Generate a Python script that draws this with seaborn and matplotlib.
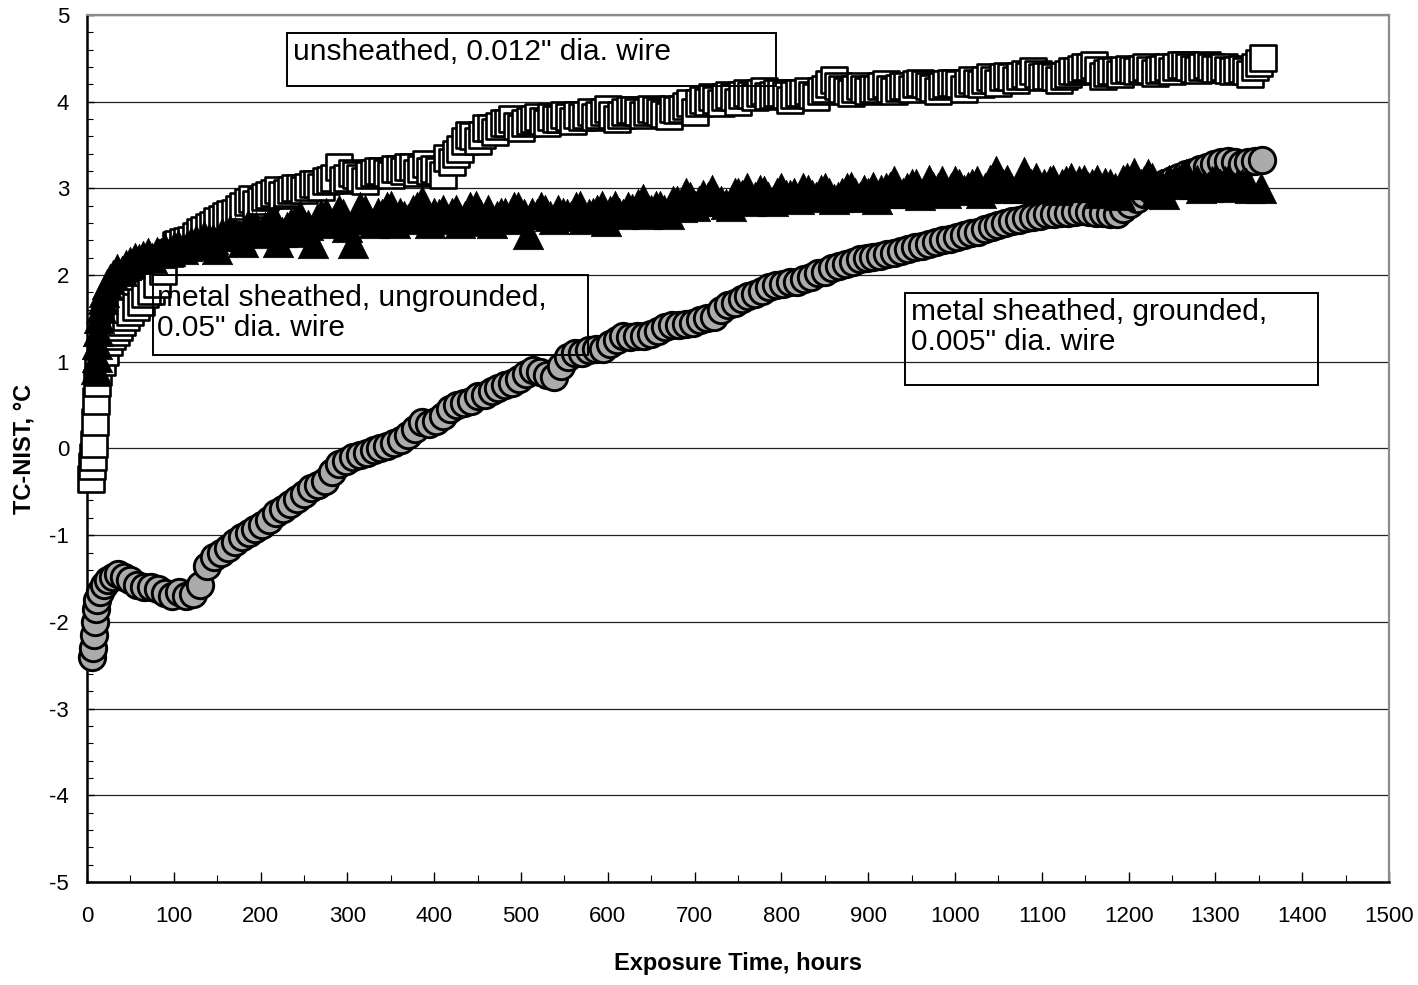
"""
plot.py - thermocouple drift vs exposure time (TC minus NIST reference).
Three wire types, scanned-report style scatter.
"""

import matplotlib
matplotlib.use("Agg")
import matplotlib.pyplot as plt
from matplotlib.patches import Rectangle
from matplotlib.ticker import MultipleLocator
import pandas as pd
import seaborn as sns


# ─────────────────────────────────────────────────────────────────────────────
# DATA
# ─────────────────────────────────────────────────────────────────────────────

# unsheathed, 0.012" wire  (open squares)
unsh_hours = [
    5, 6, 7, 8, 9, 10, 11, 13, 17, 21,
    25, 29, 33, 37, 40, 45, 50, 56, 62, 67,
    74, 81, 88, 95, 102, 110, 120, 130, 140, 150,
    160, 170, 180, 190, 200, 210, 220, 230, 240, 250,
    260, 270, 280, 290, 300, 310, 320, 330, 340, 350,
    360, 370, 380, 390, 400, 410, 420, 430, 440, 450,
    460, 470, 480, 490, 500, 510, 520, 530, 540, 550,
    560, 570, 580, 590, 600, 610, 620, 630, 640, 650,
    660, 670, 680, 690, 700, 710, 720, 730, 740, 750,
    760, 770, 780, 790, 800, 810, 820, 830, 840, 850,
    860, 870, 880, 890, 900, 910, 920, 930, 940, 950,
    960, 970, 980, 990, 1000, 1010, 1020, 1030, 1040, 1050,
    1060, 1070, 1080, 1090, 1100, 1110, 1120, 1130, 1140, 1150,
    1160, 1170, 1180, 1190, 1200, 1210, 1220, 1230, 1240, 1250,
    1260, 1270, 1280, 1290, 1300, 1310, 1320, 1330, 1340, 1350, 1355,
]
unsh_tc = [
    -0.35, -0.2, -0.1, 0.05, 0.3, 0.55, 0.75, 0.88, 1.0, 1.11,
    1.23, 1.3, 1.34, 1.4, 1.46, 1.52, 1.57, 1.63, 1.69, 1.78,
    1.82, 1.9, 2.05, 2.25, 2.35, 2.38, 2.4, 2.5, 2.55, 2.62,
    2.68, 2.72, 2.8, 2.88, 2.86, 2.92, 2.98, 2.95, 3.0, 2.98,
    3.05, 3.02, 3.1, 3.25, 3.12, 3.15, 3.08, 3.18, 3.2, 3.15,
    3.22, 3.25, 3.18, 3.28, 3.22, 3.15, 3.3, 3.45, 3.62, 3.55,
    3.7, 3.65, 3.75, 3.8, 3.7, 3.78, 3.82, 3.75, 3.8, 3.85,
    3.78, 3.82, 3.88, 3.85, 3.92, 3.8, 3.88, 3.9, 3.85, 3.92,
    3.88, 3.83, 3.9, 3.95, 3.88, 4.02, 4.05, 3.98, 4.08, 4.0,
    4.1, 4.05, 4.12, 4.08, 4.1, 4.02, 4.1, 4.12, 4.05, 4.15,
    4.25, 4.15, 4.1, 4.18, 4.12, 4.15, 4.2, 4.12, 4.18, 4.15,
    4.22, 4.18, 4.12, 4.2, 4.22, 4.15, 4.25, 4.2, 4.28, 4.22,
    4.3, 4.25, 4.32, 4.35, 4.28, 4.3, 4.25, 4.32, 4.35, 4.4,
    4.42, 4.3, 4.35, 4.32, 4.38, 4.35, 4.4, 4.33, 4.38, 4.35,
    4.42, 4.4, 4.36, 4.42, 4.38, 4.4, 4.35, 4.38, 4.32, 4.45, 4.5,
]
# readings taken between the ones above
unsh_hours_mid = [
    105, 115, 125, 135, 145, 155, 165, 175, 185, 195,
    205, 215, 225, 235, 245, 255, 265, 275, 285, 295,
    305, 315, 325, 335, 345, 355, 365, 375, 385, 395,
    405, 415, 425, 435, 445, 455, 465, 475, 485, 495,
    505, 515, 525, 535, 545, 555, 565, 575, 585, 595,
    605, 615, 625, 635, 645, 655, 665, 675, 685, 695,
    705, 715, 725, 735, 745, 755, 765, 775, 785, 795,
    805, 815, 825, 835, 845, 855, 865, 875, 885, 895,
    905, 915, 925, 935, 945, 955, 965, 975, 985, 995,
    1005, 1015, 1025, 1035, 1045, 1055, 1065, 1075, 1085, 1095,
    1105, 1115, 1125, 1135, 1145, 1155, 1165, 1175, 1185, 1195,
    1205, 1215, 1225, 1235, 1245, 1255, 1265, 1275, 1285, 1295,
    1305, 1315, 1325, 1335, 1345,
]
unsh_tc_mid = [
    2.36, 2.39, 2.45, 2.52, 2.58, 2.65, 2.7, 2.76, 2.84, 2.82,
    2.9, 2.95, 2.92, 2.98, 3.0, 3.02, 3.05, 3.08, 3.12, 3.1,
    3.18, 3.12, 3.15, 3.2, 3.18, 3.22, 3.2, 3.25, 3.22, 3.2,
    3.2, 3.35, 3.4, 3.55, 3.6, 3.62, 3.7, 3.72, 3.75, 3.72,
    3.75, 3.8, 3.78, 3.82, 3.8, 3.82, 3.85, 3.85, 3.82, 3.88,
    3.85, 3.85, 3.9, 3.88, 3.88, 3.9, 3.86, 3.92, 3.92, 3.98,
    3.98, 4.0, 4.02, 4.05, 4.05, 4.08, 4.08, 4.1, 4.06, 4.1,
    4.08, 4.08, 4.1, 4.08, 4.12, 4.2, 4.18, 4.12, 4.15, 4.15,
    4.15, 4.18, 4.15, 4.16, 4.18, 4.2, 4.2, 4.16, 4.18, 4.22,
    4.2, 4.22, 4.22, 4.25, 4.25, 4.28, 4.28, 4.3, 4.3, 4.32,
    4.3, 4.28, 4.3, 4.35, 4.38, 4.4, 4.36, 4.33, 4.35, 4.36,
    4.36, 4.38, 4.36, 4.36, 4.4, 4.4, 4.42, 4.38, 4.4, 4.4,
    4.38, 4.36, 4.36, 4.35, 4.4,
]

# metal sheathed, ungrounded, 0.05" wire  (filled triangles)
ungr_hours = [
    10, 11, 12, 13, 14, 16, 18, 20, 23, 26,
    30, 35, 40, 45, 50, 55, 60, 65, 70, 75,
    80, 85, 90, 95, 100, 110, 120, 130, 140, 150,
    160, 170, 180, 190, 200, 210, 220, 230, 240, 250,
    260, 270, 280, 290, 300, 306, 315, 325, 335, 345,
    355, 365, 375, 386, 395, 405, 415, 425, 435, 448,
    458, 467, 477, 487, 497, 508, 518, 528, 538, 548,
    558, 568, 578, 588, 598, 608, 618, 628, 641, 650,
    660, 670, 680, 690, 700, 710, 720, 730, 742, 750,
    760, 770, 780, 790, 800, 810, 820, 830, 840, 850,
    860, 870, 880, 890, 900, 910, 920, 930, 940, 950,
    960, 970, 980, 990, 1000, 1010, 1020, 1030, 1040, 1047,
    1055, 1065, 1079, 1088, 1098, 1109, 1118, 1128, 1138, 1148,
    1158, 1168, 1178, 1190, 1198, 1206, 1214, 1222, 1232, 1241,
    1250, 1258, 1266, 1275, 1283, 1291, 1300, 1311, 1320, 1330,
    1340, 1353,
]
ungr_tc = [
    0.92, 1.05, 1.2, 1.35, 1.5, 1.62, 1.72, 1.8, 1.9, 1.95,
    2.0, 2.07, 2.05, 2.12, 2.15, 2.2, 2.18, 2.22, 2.25, 2.2,
    2.27, 2.25, 2.3, 2.28, 2.32, 2.3, 2.38, 2.35, 2.42, 2.3,
    2.45, 2.5, 2.38, 2.55, 2.48, 2.6, 2.38, 2.55, 2.62, 2.5,
    2.37, 2.7, 2.6, 2.75, 2.55, 2.37, 2.78, 2.65, 2.72, 2.78,
    2.6, 2.68, 2.75, 2.86, 2.6, 2.7, 2.65, 2.75, 2.68, 2.8,
    2.62, 2.6, 2.72, 2.65, 2.78, 2.47, 2.7, 2.75, 2.65, 2.72,
    2.68, 2.8, 2.7, 2.75, 2.62, 2.8, 2.7, 2.76, 2.88, 2.75,
    2.8, 2.7, 2.85, 2.95, 2.8, 2.92, 2.98, 2.85, 2.8, 2.95,
    3.0, 2.9, 2.97, 2.85, 3.0, 2.92, 2.88, 2.98, 2.9, 3.0,
    2.88, 2.95, 3.02, 2.9, 2.95, 2.88, 3.0, 3.08, 2.95, 3.05,
    2.92, 3.1, 3.0, 2.95, 3.08, 2.98, 3.05, 2.95, 3.1, 3.2,
    3.05, 3.0, 3.19, 3.05, 3.0, 3.08, 2.98, 3.08, 3.02, 3.1,
    3.05, 2.95, 3.05, 2.92, 3.12, 3.18, 3.05, 3.16, 2.95, 2.93,
    3.05, 3.1, 3.17, 3.05, 3.0, 3.02, 3.1, 3.08, 3.02, 3.05,
    3.0, 3.0,
]
ungr_hours_mid = [
    105, 115, 125, 135, 145, 155, 165, 175, 185, 195,
    205, 215, 225, 235, 245, 255, 265, 275, 285, 295,
    310, 320, 330, 340, 350, 360, 370, 380, 390, 400,
    410, 420, 430, 441, 453, 462, 472, 482, 492, 503,
    513, 523, 533, 543, 553, 563, 573, 583, 593, 603,
    613, 623, 635, 645, 655, 665, 675, 685, 695, 705,
    715, 725, 736, 746, 755, 765, 775, 785, 795, 805,
    815, 825, 835, 845, 855, 865, 875, 885, 895, 905,
    915, 925, 935, 945, 955, 965, 975, 985, 995, 1005,
    1015, 1025, 1035, 1044, 1051, 1060, 1072, 1084, 1093, 1103,
    1113, 1123, 1133, 1143, 1153, 1163, 1173, 1184, 1194, 1202,
    1210, 1218, 1227, 1237, 1246, 1254, 1262, 1270, 1279, 1287,
    1296, 1305, 1315, 1325, 1335,
]
ungr_tc_mid = [
    2.35, 2.33, 2.4, 2.45, 2.42, 2.48, 2.52, 2.45, 2.58, 2.55,
    2.55, 2.65, 2.5, 2.6, 2.68, 2.58, 2.65, 2.72, 2.62, 2.7,
    2.65, 2.75, 2.6, 2.7, 2.8, 2.72, 2.65, 2.78, 2.7, 2.72,
    2.75, 2.72, 2.6, 2.78, 2.7, 2.75, 2.68, 2.72, 2.78, 2.7,
    2.72, 2.78, 2.68, 2.75, 2.7, 2.78, 2.65, 2.72, 2.8, 2.74,
    2.72, 2.78, 2.82, 2.7, 2.8, 2.75, 2.85, 2.78, 2.9, 2.85,
    2.9, 2.88, 2.82, 2.95, 2.92, 2.85, 2.98, 2.9, 2.95, 2.92,
    2.95, 3.0, 2.92, 2.98, 2.95, 2.9, 3.0, 2.95, 2.98, 3.02,
    2.98, 3.02, 2.95, 3.0, 3.05, 2.98, 3.02, 3.08, 3.0, 3.05,
    3.02, 3.08, 3.0, 3.12, 3.05, 3.1, 3.0, 3.08, 3.12, 3.05,
    3.1, 3.05, 3.12, 3.08, 3.02, 3.1, 3.06, 3.0, 3.1, 3.05,
    3.1, 3.08, 3.12, 3.05, 3.1, 3.08, 3.12, 3.06, 3.1, 3.04,
    3.08, 3.05, 3.1, 3.04, 3.06,
]

# metal sheathed, grounded, 0.005" wire  (grey circles)
grnd_hours = [
    6, 7, 8, 9, 10, 12, 15, 19, 24, 30,
    36, 43, 50, 58, 66, 74, 82, 90, 98, 106,
    114, 122, 130, 138, 146, 154, 162, 170, 178, 186,
    194, 202, 210, 218, 226, 234, 242, 250, 258, 266,
    274, 282, 290, 298, 306, 314, 322, 330, 338, 346,
    354, 362, 370, 378, 386, 394, 402, 410, 418, 426,
    434, 442, 450, 458, 466, 474, 482, 490, 498, 506,
    514, 522, 530, 538, 546, 554, 562, 570, 578, 586,
    594, 602, 610, 618, 626, 634, 642, 650, 658, 666,
    674, 682, 690, 698, 706, 714, 722, 730, 738, 746,
    754, 762, 770, 778, 786, 794, 802, 810, 818, 826,
    834, 842, 850, 858, 866, 874, 882, 890, 898, 906,
    914, 922, 930, 938, 946, 954, 962, 970, 978, 986,
    994, 1002, 1010, 1018, 1026, 1034, 1042, 1050, 1058, 1066,
    1074, 1082, 1090, 1098, 1106, 1114, 1122, 1130, 1138, 1146,
    1154, 1162, 1170, 1178, 1186, 1194, 1202, 1210, 1218, 1226,
    1234, 1242, 1250, 1258, 1266, 1274, 1282, 1290, 1298, 1306,
    1314, 1322, 1330, 1338, 1346, 1354,
]
grnd_tc = [
    -2.4, -2.3, -2.15, -2.0, -1.85, -1.75, -1.65, -1.58, -1.52, -1.48,
    -1.45, -1.48, -1.52, -1.58, -1.6, -1.6, -1.62, -1.67, -1.7, -1.66,
    -1.7, -1.68, -1.58, -1.35, -1.25, -1.2, -1.15, -1.08, -1.02, -0.98,
    -0.93, -0.88, -0.82, -0.75, -0.7, -0.64, -0.58, -0.52, -0.46, -0.42,
    -0.37, -0.27, -0.18, -0.15, -0.1, -0.07, -0.05, -0.02, 0.0, 0.03,
    0.06, 0.1, 0.15, 0.22, 0.3, 0.28, 0.32, 0.38, 0.45, 0.5,
    0.52, 0.55, 0.6, 0.62, 0.66, 0.7, 0.73, 0.76, 0.8, 0.86,
    0.9, 0.88, 0.85, 0.83, 0.95, 1.05, 1.1, 1.1, 1.13, 1.15,
    1.15, 1.2, 1.25, 1.3, 1.28, 1.3, 1.3, 1.32, 1.36, 1.4,
    1.42, 1.42, 1.43, 1.45, 1.48, 1.5, 1.52, 1.6, 1.65, 1.68,
    1.72, 1.76, 1.78, 1.82, 1.86, 1.88, 1.9, 1.92, 1.92, 1.95,
    1.98, 2.02, 2.04, 2.08, 2.1, 2.13, 2.15, 2.18, 2.2, 2.21,
    2.22, 2.24, 2.26, 2.28, 2.3, 2.32, 2.34, 2.36, 2.38, 2.4,
    2.42, 2.44, 2.46, 2.48, 2.5, 2.53, 2.55, 2.58, 2.6, 2.62,
    2.64, 2.66, 2.67, 2.68, 2.7, 2.71, 2.72, 2.72, 2.73, 2.74,
    2.73, 2.72, 2.72, 2.7, 2.7, 2.76, 2.82, 2.88, 2.93, 2.98,
    3.02, 3.06, 3.1, 3.13, 3.16, 3.19, 3.22, 3.25, 3.28, 3.3,
    3.32, 3.3, 3.28, 3.3, 3.32, 3.33,
]

label_unsh = 'unsheathed, 0.012" dia. wire'
label_ungr = 'metal sheathed, ungrounded,\n0.05" dia. wire'
label_grnd = 'metal sheathed, grounded,\n0.005" dia. wire'


# ─────────────────────────────────────────────────────────────────────────────
# FIGURE
# ─────────────────────────────────────────────────────────────────────────────

sns.set_style("white")
plt.rcParams["font.family"] = ["Liberation Sans", "DejaVu Sans"]
plt.rcParams["axes.unicode_minus"] = False  # scanned chart uses a plain hyphen
for key in ["text.color", "axes.labelcolor", "xtick.color", "ytick.color"]:
    plt.rcParams[key] = "black"


def series_frame(hours, tc, hours_mid=(), tc_mid=()):
    """Stack readings into one frame, in time order (drawing order matters)."""
    df = pd.DataFrame({"hours": list(hours) + list(hours_mid),
                       "tc": list(tc) + list(tc_mid)})
    return df.sort_values("hours", kind="stable").reset_index(drop=True)


df_unsh = series_frame(unsh_hours, unsh_tc, unsh_hours_mid, unsh_tc_mid)
df_ungr = series_frame(ungr_hours, ungr_tc, ungr_hours_mid, ungr_tc_mid)
df_grnd = series_frame(grnd_hours, grnd_tc)

fig = plt.figure(figsize=(14.18, 9.85), dpi=100)
ax = fig.add_axes([0.0614, 0.1046, 0.9182, 0.8802])

sns.scatterplot(data=df_unsh, x="hours", y="tc", ax=ax, marker="s", s=330,
                color="white", edgecolor="black", linewidth=1.9,
                legend=False, zorder=3, clip_on=False)
sns.scatterplot(data=df_grnd, x="hours", y="tc", ax=ax, marker="o", s=360,
                color="#ababab", edgecolor="black", linewidth=2.1,
                legend=False, zorder=4, clip_on=False)
sns.scatterplot(data=df_ungr, x="hours", y="tc", ax=ax, marker="^", s=480,
                color="black", edgecolor="black", linewidth=0.5,
                legend=False, zorder=5, clip_on=False)

ax.set_xlim(0, 1500)
ax.set_ylim(-5, 5)
ax.xaxis.set_major_locator(MultipleLocator(100))
ax.xaxis.set_minor_locator(MultipleLocator(50))
ax.yaxis.set_major_locator(MultipleLocator(1))
ax.yaxis.set_minor_locator(MultipleLocator(0.2))

ax.grid(False)
ax.yaxis.grid(True, which="major", color="#222222", linewidth=0.9, zorder=1)
ax.set_axisbelow(True)

ax.tick_params(axis="x", which="major", direction="in", length=7, width=1,
               labelsize=16, pad=17, bottom=True, top=False)
ax.tick_params(axis="x", which="minor", direction="in", length=5, width=0.8,
               bottom=True, top=False)
ax.tick_params(axis="y", which="major", direction="in", length=5, width=1,
               labelsize=16, pad=13, left=True, right=False)
ax.tick_params(axis="y", which="minor", direction="in", length=4, width=0.8,
               left=True, right=False)

for side in ["left", "bottom"]:
    ax.spines[side].set_color("black")
    ax.spines[side].set_linewidth(1.8)
for side in ["top", "right"]:
    ax.spines[side].set_color("#8c8c8c")
    ax.spines[side].set_linewidth(1.6)

ax.set_xlabel("Exposure Time, hours", fontsize=17, fontweight="bold", labelpad=18)
ax.set_ylabel("TC-NIST, \u00b0C", fontsize=17, fontweight="bold", labelpad=10)

# annotation boxes (axes fraction)
boxes = [
    (label_unsh, (0.1536, 0.918), 0.3756, 0.061, (0.158, 0.973)),
    (label_ungr, (0.0507, 0.608), 0.3341, 0.092, (0.0538, 0.690)),
    (label_grnd, (0.628, 0.573), 0.3175, 0.106, (0.633, 0.674)),
]
for text, xy, w, h, txy in boxes:
    ax.add_patch(Rectangle(xy, w, h, transform=ax.transAxes, fill=False,
                           edgecolor="black", linewidth=1.4, zorder=6,
                           clip_on=False))
    ax.text(txy[0], txy[1], text, transform=ax.transAxes, fontsize=21.5,
            ha="left", va="top", linespacing=1.1, zorder=7)

fig.savefig("out.png", dpi=100, facecolor="white")
